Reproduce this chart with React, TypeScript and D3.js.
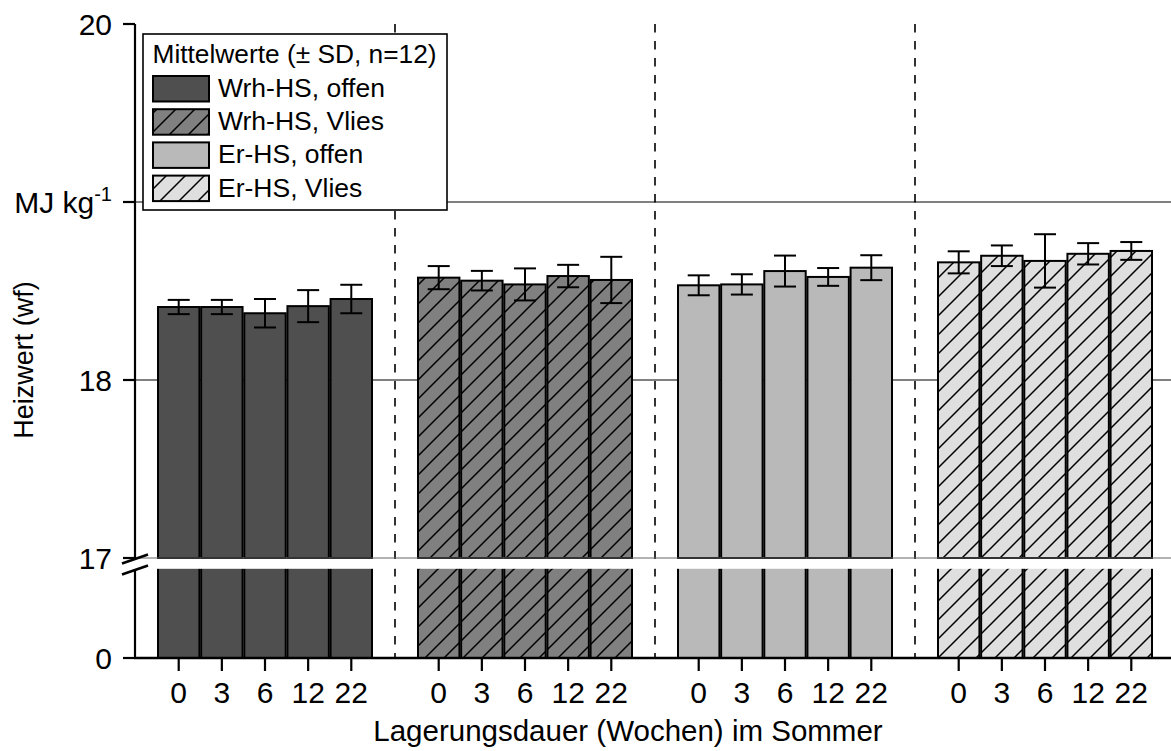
import React from 'react';
import * as d3 from 'd3';

const groups = ['Wrh-HS, offen', 'Wrh-HS, Vlies', 'Er-HS, offen', 'Er-HS, Vlies'];
const weeks = ['0', '3', '6', '12', '22'];
const meanWrhOffen = [18.41, 18.41, 18.375, 18.415, 18.455];
const sdWrhOffen = [0.04, 0.04, 0.08, 0.09, 0.08];
const meanWrhVlies = [18.575, 18.558, 18.537, 18.584, 18.562];
const sdWrhVlies = [0.065, 0.055, 0.09, 0.063, 0.13];
const meanErOffen = [18.532, 18.537, 18.612, 18.579, 18.631];
const sdErOffen = [0.056, 0.057, 0.087, 0.05, 0.07];
const meanErVlies = [18.661, 18.698, 18.669, 18.709, 18.725];
const sdErVlies = [0.062, 0.058, 0.15, 0.06, 0.05];
const yTicksTop = [17, 18, 19, 20];
const yTickLabels = ['17', '18', 'MJ kg', '20'];
const legendTitle = 'Mittelwerte (± SD, n=12)';
const xTitle = 'Lagerungsdauer (Wochen) im Sommer';
const yTitle = 'Heizwert (wf)';

const means = [meanWrhOffen, meanWrhVlies, meanErOffen, meanErVlies];
const sds = [sdWrhOffen, sdWrhVlies, sdErOffen, sdErVlies];
const fills = ['#4f4f4f', '#808080', '#b9b9b9', '#dfdfdf'];
const hatched = [false, true, false, true];

const FONT = '"Liberation Sans", Arial, sans-serif';

export default function App() {
  const W = 1171, H = 751;
  const axisX = 135;
  const yTop = d3.scaleLinear().domain([17, 20]).range([558, 24]);
  const yBot = d3.scaleLinear().domain([0, 17]).range([658, 569]);
  const xGroup = d3.scaleBand<string>().domain(groups).range([135, 1175]).paddingInner(0).paddingOuter(0);
  const xWeek = d3.scaleBand<string>().domain(weeks).range([23, 237]).paddingInner(0.04);
  const bw = xWeek.bandwidth();

  const fillFor = (gi: number) => (hatched[gi] ? `url(#hatch${gi})` : fills[gi]);

  return (
    <svg width={W} height={H} style={{ position: 'absolute', left: 0, top: 0, background: '#fff' }} fontFamily={FONT}>
      <defs>
        {groups.map((g, gi) =>
          hatched[gi] ? (
            <pattern key={g} id={`hatch${gi}`} patternUnits="userSpaceOnUse" width={19} height={19}>
              <rect width={19} height={19} fill={fills[gi]} />
              <path d="M0,19 L19,0 M-5,5 L5,-5 M14,24 L24,14" stroke="#000" strokeWidth={1.5} />
            </pattern>
          ) : null
        )}
      </defs>
      <rect x={0} y={0} width={W} height={H} fill="#fff" />

      {/* grid lines */}
      {[18, 19].map((v) => (
        <line key={v} x1={axisX} x2={W} y1={yTop(v)} y2={yTop(v)} stroke="#000" strokeWidth={1} />
      ))}

      {/* group separators */}
      {groups.slice(1).map((g) => (
        <line key={g} x1={xGroup(g)!} x2={xGroup(g)!} y1={yTop(20)} y2={yBot(0)} stroke="#000" strokeWidth={1.6} strokeDasharray="8.5,8.5" />
      ))}

      {/* bars */}
      {groups.map((g, gi) =>
        weeks.map((w, wi) => {
          const x = xGroup(g)! + xWeek(w)!;
          const v = means[gi][wi];
          return (
            <g key={g + w}>
              <rect x={x} y={yTop(v)} width={bw} height={yTop(17) - yTop(v)} fill={fillFor(gi)} stroke="#000" strokeWidth={2} />
              <rect x={x} y={yBot(17) - 2} width={bw} height={yBot(0) - yBot(17) + 2} fill={fillFor(gi)} stroke="#000" strokeWidth={2} />
            </g>
          );
        })
      )}

      {/* break gap */}
      <rect x={axisX + 1} y={559} width={W - axisX} height={9.8} fill="#fff" />
      <line x1={axisX} x2={W} y1={yTop(17)} y2={yTop(17)} stroke="#666" strokeWidth={1} />

      {/* error bars */}
      {groups.map((g, gi) =>
        weeks.map((w, wi) => {
          const cx = xGroup(g)! + xWeek(w)! + bw / 2;
          const v = means[gi][wi];
          const s = sds[gi][wi];
          const y1 = yTop(v + s), y2 = yTop(v - s);
          return (
            <g key={'e' + g + w} stroke="#000" strokeWidth={2}>
              <line x1={cx} x2={cx} y1={y1} y2={y2} />
              <line x1={cx - 11} x2={cx + 11} y1={y1} y2={y1} />
              <line x1={cx - 11} x2={cx + 11} y1={y2} y2={y2} />
            </g>
          );
        })
      )}

      {/* y axis */}
      <line x1={axisX} x2={axisX} y1={yTop(20)} y2={yTop(17)} stroke="#000" strokeWidth={2.2} />
      <line x1={axisX} x2={axisX} y1={yBot(17)} y2={yBot(0)} stroke="#000" strokeWidth={2.2} />
      {yTicksTop.map((v, i) => (
        <g key={v}>
          <line x1={axisX - 12} x2={axisX} y1={yTop(v)} y2={yTop(v)} stroke="#000" strokeWidth={2.2} />
          {i === 2 ? (
            <text x={112} y={yTop(v) + 10.5} textAnchor="end" fontSize={30} fill="#000">
              {yTickLabels[i]}
              <tspan fontSize={20} dy={-12}>-1</tspan>
            </text>
          ) : (
            <text x={112} y={yTop(v) + 10.5} textAnchor="end" fontSize={30} fill="#000">
              {yTickLabels[i]}
            </text>
          )}
        </g>
      ))}
      <line x1={axisX - 12} x2={axisX} y1={yBot(0)} y2={yBot(0)} stroke="#000" strokeWidth={2.2} />
      <text x={112} y={yBot(0) + 10.5} textAnchor="end" fontSize={30} fill="#000">0</text>
      {/* break marks */}
      <line x1={122} x2={148} y1={563.5} y2={554.5} stroke="#000" strokeWidth={2.5} />
      <line x1={122} x2={148} y1={574.5} y2={565.5} stroke="#000" strokeWidth={2.5} />

      {/* x axis */}
      <line x1={axisX - 1} x2={W} y1={yBot(0)} y2={yBot(0)} stroke="#000" strokeWidth={2.5} />
      {groups.map((g) =>
        weeks.map((w) => {
          const cx = xGroup(g)! + xWeek(w)! + bw / 2;
          return (
            <g key={'t' + g + w}>
              <line x1={cx} x2={cx} y1={yBot(0)} y2={yBot(0) + 13} stroke="#000" strokeWidth={2.2} />
              <text x={cx} y={703} textAnchor="middle" fontSize={30} fill="#000">{w}</text>
            </g>
          );
        })
      )}
      <text x={628} y={741} textAnchor="middle" fontSize={29.5} fill="#000">{xTitle}</text>
      <text transform="translate(33,360) rotate(-90)" textAnchor="middle" fontSize={27} fill="#000">{yTitle}</text>

      {/* legend */}
      <rect x={143} y={34} width={304} height={176} fill="#fff" stroke="#000" strokeWidth={1.6} />
      <text x={152.5} y={63} fontSize={26.3} fill="#000">{legendTitle}</text>
      {groups.map((g, gi) => (
        <g key={'l' + g}>
          <rect x={153} y={76 + gi * 33.2} width={56} height={25.5} fill={fillFor(gi)} stroke="#000" strokeWidth={2} />
          <text x={218} y={96.7 + gi * 33.3} fontSize={26.5} fill="#000">{g}</text>
        </g>
      ))}
    </svg>
  );
}
